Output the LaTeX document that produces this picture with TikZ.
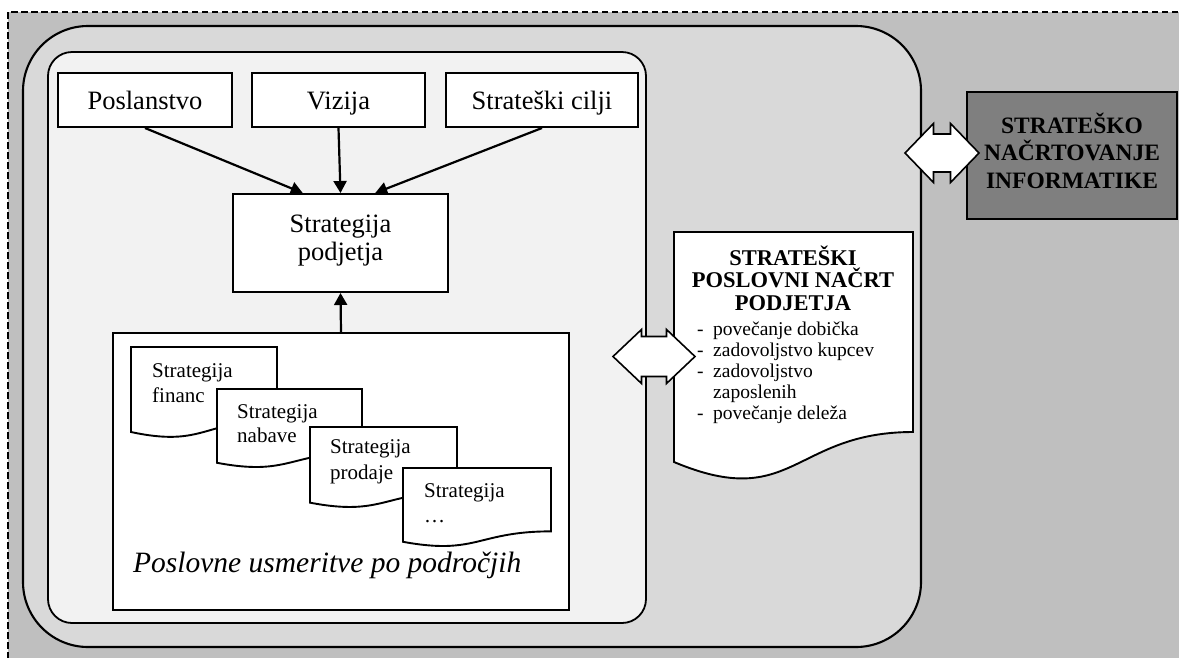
\documentclass[tikz,border=0pt]{standalone}
\usepackage{fontspec}
\setmainfont{Liberation Serif}
\usetikzlibrary{arrows.meta,calc}

\definecolor{bgouter}{RGB}{191,191,191}
\definecolor{bgmid}{RGB}{217,217,217}
\definecolor{bginner}{RGB}{242,242,242}
\definecolor{darkbox}{RGB}{127,127,127}

% document-like shape with a wavy lower edge: x, y (top left), width, height
\newcommand\docshape[4]{%
  \draw[docbox] (#1,#2) -- ({#1+#3},#2) -- ({#1+#3},{#2+0.802*#4})
    .. controls ({#1+0.5*#3},{#2+0.802*#4}) and ({#1+0.5*#3},{#2+1.1075*#4}) ..
    (#1,{#2+0.934*#4}) -- cycle;}

% white double block arrow: left tip x, right tip x, mid y, head length, head half-height, shaft half-height
\newcommand\dblarrow[6]{%
  \draw[blockarr] (#1,#3) -- ({#1+#4},{#3-#5}) -- ({#1+#4},{#3-#6}) -- ({#2-#4},{#3-#6})
    -- ({#2-#4},{#3-#5}) -- (#2,#3) -- ({#2-#4},{#3+#5}) -- ({#2-#4},{#3+#6})
    -- ({#1+#4},{#3+#6}) -- ({#1+#4},{#3+#5}) -- cycle;}

\tikzset{
  box/.style={draw, fill=white, line width=2pt, inner sep=0pt,
    font=\fontsize{26.5}{28.7}\selectfont, text height=18pt, text depth=0pt},
  docbox/.style={draw, fill=white, line width=1.9pt},
  blockarr/.style={draw, fill=white, line width=1.6pt, line join=miter},
  txt/.style={inner sep=0pt},
  arr/.style={line width=2.2pt, -{Triangle[length=12pt,width=13pt]}},
}

\begin{document}
\begin{tikzpicture}[x=1pt,y=-1pt]
\useasboundingbox (0,0) rectangle (1179,657);
\clip (0,0) rectangle (1179,657);

% background frame
\draw[fill=bgouter, dash pattern=on 6.5pt off 3.5pt, line width=1.6pt] (8,12) rectangle (1200,680);

% outer and inner rounded panels
\draw[fill=bgmid, line width=2.1pt, rounded corners=65pt] (23,26) rectangle (921,647);
\draw[fill=bginner, line width=1.8pt, rounded corners=24pt] (48,52) rectangle (646,623);

% top row
\node[box, minimum width=174pt, minimum height=54pt] (posl) at (145,100) {Poslanstvo};
\node[box, minimum width=173pt, minimum height=54pt] (viz) at (338.5,100) {Vizija};
\node[box, minimum width=192pt, minimum height=54pt] (cilji) at (542,100) {Strateški cilji};

% company strategy
\node[box, minimum width=215pt, minimum height=98pt, text height=20pt, text depth=42pt] (sp) at (340.5,243)
  {\begin{tabular}[t]{@{}c@{}}Strategija\\podjetja\end{tabular}};

\draw[arr] (posl.south) -- ($(sp.north west)!0.326!(sp.north east)$);
\draw[arr] (viz.south) -- (sp.north);
\draw[arr] (cilji.south) -- ($(sp.north west)!0.66!(sp.north east)$);

% business areas
\node[draw, fill=white, line width=2pt, minimum width=456pt, minimum height=277pt] (usm) at (341,471.5) {};
\draw[arr] (usm.north) -- (sp.south);

\docshape{131}{347}{146}{91}
\node[txt, anchor=base west, font=\fontsize{21}{25}\selectfont] (fin) at (152,377)
  {\begin{tabular}[t]{@{}l@{}}Strategija\\financ\end{tabular}};
\docshape{217}{389}{145}{79}
\node[txt, anchor=base west, font=\fontsize{21}{24.5}\selectfont] (nab) at (237,418)
  {\begin{tabular}[t]{@{}l@{}}Strategija\\nabave\end{tabular}};
\docshape{310}{427}{147}{81}
\node[txt, anchor=base west, font=\fontsize{21}{26}\selectfont] (prod) at (330,453)
  {\begin{tabular}[t]{@{}l@{}}Strategija\\prodaje\end{tabular}};
\docshape{403}{468}{148}{79}
\node[txt, anchor=base west, font=\fontsize{21}{25}\selectfont] (ost) at (424,497)
  {\begin{tabular}[t]{@{}l@{}}Strategija\\…\end{tabular}};

\node[txt, anchor=base west, font=\fontsize{29.5}{34}\selectfont\itshape] (usmtxt) at (133,572)
  {Poslovne usmeritve po področjih};

% strategic business plan
\draw[docbox] (674,232) -- (913,232) -- (913,432) .. controls (793,432) and (793,512) .. (674,462) -- cycle;
\node[txt, anchor=base, font=\fontsize{22.5}{22.5}\selectfont\bfseries] (plan) at (793,265)
  {\begin{tabular}[t]{@{}c@{}}\smash{STRATEŠKI}\\\smash{POSLOVNI NAČRT}\\\smash{PODJETJA}\end{tabular}};
\node[txt, anchor=base west, font=\fontsize{19.5}{21.2}\selectfont] (cilj) at (697,335)
  {\begin{tabular}[t]{@{}l@{\hspace{9.5pt}}l@{}}
   - & povečanje dobička\\
   - & zadovoljstvo kupcev\\
   - & zadovoljstvo\\
     & zaposlenih\\
   - & povečanje deleža
   \end{tabular}};

% IT strategic planning
\node[draw, fill=darkbox, line width=1.8pt, minimum width=210pt, minimum height=127pt, inner sep=0pt,
  font=\fontsize{23.5}{27.5}\selectfont\bfseries, text height=10pt, text depth=55pt] (info) at (1072,155.5)
  {\begin{tabular}[t]{@{}c@{}}\smash{STRATEŠKO}\\\smash{NAČRTOVANJE}\\\smash{INFORMATIKE}\end{tabular}};

% links between the plans
\dblarrow{613}{695}{356.5}{28.5}{27}{20}
\dblarrow{905}{979}{153}{28.5}{29.5}{19}
\end{tikzpicture}
\end{document}
